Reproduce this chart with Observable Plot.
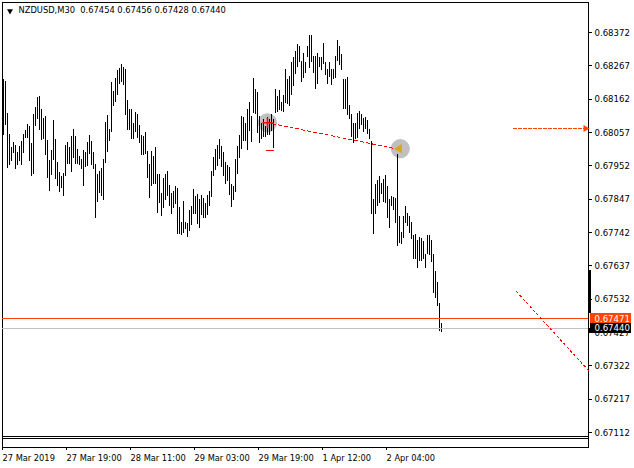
<!DOCTYPE html>
<html>
<head>
<meta charset="utf-8">
<script src="https://cdn.jsdelivr.net/npm/d3@7"></script>
<script src="https://cdn.jsdelivr.net/npm/@observablehq/plot@0.6"></script>
<style>html,body{margin:0;padding:0;background:#fff}svg{display:block}</style>
</head>
<body>
<script>
const highPts = [
68223,68219,68116,68050,68009,68024,68015,67993,68012,68028,
68050,68062,68081,68075,68021,68113,68135,68166,68169,68131,
68100,68106,68031,67968,68000,68094,68034,67961,67930,67918,
67927,68015,68024,68009,68043,68065,68043,68002,67980,67971,
68000,67993,68024,68046,68028,67993,67955,67924,67933,67943,
67971,68090,68109,68065,68213,68185,68226,68251,68260,68270,
68263,68257,68157,68128,68128,68084,68119,68113,68078,68046,
68043,68056,67996,67955,67996,67980,68009,67924,67924,67864,
67911,67924,67933,67889,67864,67870,67886,67880,67820,67773,
67839,67773,67770,67811,67823,67877,67855,67861,67845,67858,
67848,67833,67858,67870,67933,67977,68002,68015,68034,68012,
67993,67961,67952,67946,67892,67886,67971,68012,68046,68106,
68103,68084,68131,68153,68106,68226,68191,68182,68106,68084,
68097,68075,68103,68097,68113,68097,68194,68169,68188,68150,
68175,68257,68223,68232,68279,68292,68311,68333,68329,68282,
68307,68276,68329,68361,68361,68295,68295,68307,68292,68292,
68336,68276,68257,68279,68257,68257,68295,68348,68329,68304,
68223,68223,68229,68141,68113,68084,68084,68116,68122,68113,
68100,68103,68094,68068,68028,67845,67892,67905,67918,67895,
67908,67921,67886,67845,67855,67852,67848,67987,67792,67741,
67792,67823,67801,67792,67773,67732,67735,67716,67726,67723,
67713,67672,67732,67732,67716,67672,67619,67584,67518,67456];
const lowPts = [
68046,68078,67943,67952,67965,67990,67939,67952,67965,67952,
67990,68037,68037,67965,67918,67924,68075,68097,68062,68031,
68034,67984,67911,67870,67921,67968,67908,67886,67867,67880,
67855,67918,67955,67955,67930,67974,67955,67955,67952,67939,
67886,67946,67949,67987,67952,67939,67785,67836,67864,67855,
67842,67958,67993,68028,68056,68138,68150,68175,68207,68213,
68204,68109,68062,68062,68034,68034,68056,68037,68021,67984,
67984,67987,67911,67848,67886,67892,67892,67801,67833,67792,
67817,67842,67855,67823,67798,67817,67829,67735,67735,67732,
67738,67751,67726,67745,67763,67798,67798,67767,67754,67795,
67785,67785,67795,67823,67852,67918,67936,67949,67971,67946,
67918,67892,67902,67858,67820,67842,67867,67924,67974,68002,
68028,68028,67999,68059,68024,68116,68113,68053,68021,68034,
68040,68040,68046,68046,68059,68006,68116,68119,68125,68122,
68119,68147,68144,68138,68175,68201,68241,68263,68279,68216,
68226,68244,68292,68260,68276,68244,68194,68207,68263,68251,
68270,68235,68207,68229,68204,68223,68226,68282,68267,68251,
68131,68128,68109,68097,68040,68021,68034,68037,68068,68078,
68056,68065,68050,68034,67798,67735,67798,67823,67833,67861,
67836,67833,67785,67754,67823,67811,67770,67697,67707,67704,
67723,67770,67760,67738,67719,67657,67657,67628,67650,67650,
67657,67628,67672,67669,67647,67550,67534,67509,67430,67428];
const bars = highPts.map((h, i) => ({i, high: h / 1e5, low: lowPts[i] / 1e5}));

const yTicks = [0.68372,0.68267,0.68162,0.68057,0.67952,0.67847,0.67742,0.67637,0.67532,0.67427,0.67322,0.67217,0.67112];
const xTicks = [0,32,64,96,128,160,192];
const xLabels = ["27 Mar 2019","27 Mar 19:00","28 Mar 11:00","29 Mar 03:00","29 Mar 19:00","1 Apr 12:00","2 Apr 04:00"];
const title = "NZDUSD,M30\u00a0\u00a00.67454 0.67456 0.67428 0.67440";

const askPrice = 0.67471, bidPrice = 0.67440;
const trend = [{i:131.5, p:0.680885},{i:198, p:0.680035}];
const downTrend = [{i:256.5, p:0.67556},{i:292.5, p:0.673073}];
const arrowLine = [{i:255, p:0.680696},{i:291, p:0.680696}];
const stopDash = [{i:131.5, p:0.680003},{i:135, p:0.680003}];
const circles = [{i:132, p:0.680875},{i:198.4, p:0.68006}];
const tags = [
  {top:0.674869, bottom:0.674554, fill:"#ff4500", label:"0.67471", p:askPrice},
  {top:0.674554, bottom:0.674239, fill:"#000000", label:"0.67440", p:bidPrice}
];
const axisBlocks = [{top:0.676223, bottom:0.674869},{top:0.674396, bottom:0.674239}];
const FONT = "'DejaVu Sans Condensed','DejaVu Sans',sans-serif";

const chart = Plot.plot({
  width: 634, height: 468,
  marginLeft: 2, marginRight: 46, marginTop: 2, marginBottom: 21,
  style: {fontFamily: FONT, fontSize: "9.5px", background: "#fff", color: "#000"},
  x: {type: "linear", domain: [-0.5, 292.5], axis: null},
  y: {type: "linear", domain: [0.670648, 0.684665], axis: null},
  marks: [
    Plot.frame({stroke: "#000", shapeRendering: "crispEdges"}),
    Plot.ruleY([0.670994, 0.670931], {stroke: "#000", shapeRendering: "crispEdges"}),
    Plot.dot(circles, {x: "i", y: "p", r: 9.6, fill: "#c0c0c0", stroke: null}),
    Plot.ruleX(bars, {x: "i", y1: "low", y2: "high", stroke: "#000", strokeWidth: 1, shapeRendering: "crispEdges"}),
    Plot.ruleY([bidPrice], {stroke: "#c0c0c0", strokeWidth: 1, shapeRendering: "crispEdges"}),
    Plot.ruleY([askPrice], {stroke: "orangered", strokeWidth: 1, shapeRendering: "crispEdges"}),
    Plot.line(trend, {x: "i", y: "p", stroke: "#ff0000", strokeWidth: 1, strokeDasharray: "3,3", shapeRendering: "crispEdges"}),
    Plot.line(downTrend, {x: "i", y: "p", stroke: "#ff0000", strokeWidth: 1, strokeDasharray: "2,3", shapeRendering: "crispEdges"}),
    Plot.line(arrowLine, {x: "i", y: "p", stroke: "orangered", strokeWidth: 1, strokeDasharray: "3,2", shapeRendering: "crispEdges"}),
    Plot.dot([arrowLine[1]], {x: "i", y: "p", symbol: "triangle", rotate: 90, r: 2.6, fill: "orangered", stroke: null}),
    Plot.line(stopDash, {x: "i", y: "p", stroke: "#ff0000", strokeWidth: 1, shapeRendering: "crispEdges"}),
    Plot.dot([circles[0]], {x: "i", y: "p", symbol: "plus", r: 3.4, stroke: "#ff0000", strokeWidth: 1.6}),
    Plot.dot([circles[1]], {x: "i", y: "p", dx: -1, symbol: "triangle", rotate: -90, r: 3.4, fill: "#daa520", stroke: null}),
    Plot.axisY(yTicks, {anchor: "right", tickSize: 3, tickPadding: 3, tickFormat: d3.format(".5f"), label: null, shapeRendering: "crispEdges"}),
    Plot.axisX(xTicks, {anchor: "bottom", tickSize: 3, tickPadding: 4, fontSize: 9.2, tickFormat: (d, k) => xLabels[k], textAnchor: "start", dx: -1, label: null, shapeRendering: "crispEdges"}),
    Plot.ruleX(axisBlocks, {x: 293, y1: "bottom", y2: "top", stroke: "#000", strokeWidth: 3, shapeRendering: "crispEdges"}),
    Plot.rect(tags, {x1: 293.5, x2: 314, y1: "bottom", y2: "top", fill: "fill", shapeRendering: "crispEdges"}),
    Plot.text(tags, {x: 295.5, y: "p", text: "label", fill: "#fff", textAnchor: "start"}),
    Plot.dot([title], {frameAnchor: "top-left", dx: 7.5, dy: 8.5, symbol: "triangle", rotate: 180, r: 2.2, fill: "#000", stroke: null}),
    Plot.text([title], {frameAnchor: "top-left", dx: 16, dy: 8, fontSize: 9.25, text: d => d, fill: "#000", textAnchor: "start", lineAnchor: "middle"})
  ]
});
document.body.appendChild(chart);
</script>
</body>
</html>
